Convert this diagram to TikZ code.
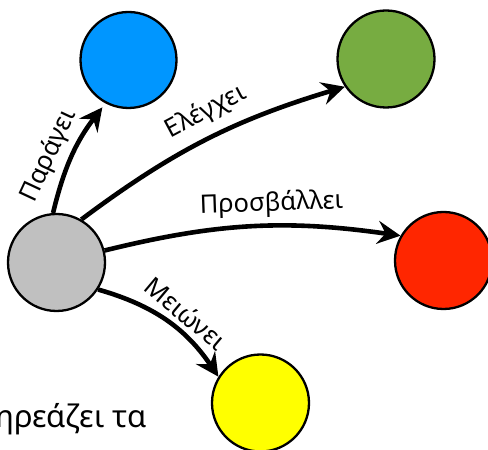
\documentclass[tikz,border=0pt]{standalone}
\usepackage{fontspec}
\setmainfont{Noto Sans}
\usetikzlibrary{arrows.meta}
\definecolor{cgray}{HTML}{C0C0C0}
\definecolor{cblue}{HTML}{0096FF}
\definecolor{cgreen}{HTML}{77AC41}
\definecolor{cred}{HTML}{FF2600}
\definecolor{cyellow}{HTML}{FFFF00}
\tikzset{
  ball/.style={circle, draw=black, line width=2.3pt, inner sep=0pt, minimum size=97pt},
  conn/.style={line width=4.6pt, -{Stealth[length=23pt,width=23pt,inset=8pt]}},
  lbl/.style={font=\fontsize{25.5}{28}\selectfont, inner sep=0pt}
}
\begin{document}
\begin{tikzpicture}[x=1pt,y=1pt]
\useasboundingbox (0,0) rectangle (488,450);
\node[ball, fill=cgray] (G) at (56.5,187.5) {};
\node[ball, fill=cblue, minimum size=96pt] (B) at (128.5,390) {};
\node[ball, fill=cgreen] (Gr) at (386,391) {};
\node[ball, fill=cred] (R) at (443.5,189.5) {};
\node[ball, fill=cyellow] (Y) at (260.5,47) {};
\draw[conn, shorten >=5pt] (G.94) to[bend left=12] (B.-118);
\draw[conn] (G.60) to[bend left=10] (Gr.214);
\draw[conn] (G.14) to[bend left=11] (R.150);
\draw[conn] (G.-33) to[bend left=20] (Y.148);
\node[lbl, rotate=65] (l1) at (49,294) {Παράγει};
\node[lbl, rotate=28] (l2) at (206,338) {Ελέγχει};
\node[lbl, rotate=2] (l3) at (271.5,246) {Προσβάλλει};
\node[lbl, rotate=-40] (l4) at (186,137) {Μειώνει};
\node[lbl, font=\fontsize{31}{34}\selectfont, anchor=base west] (t) at (-5,22) {ηρεάζει τα};
\end{tikzpicture}
\end{document}
